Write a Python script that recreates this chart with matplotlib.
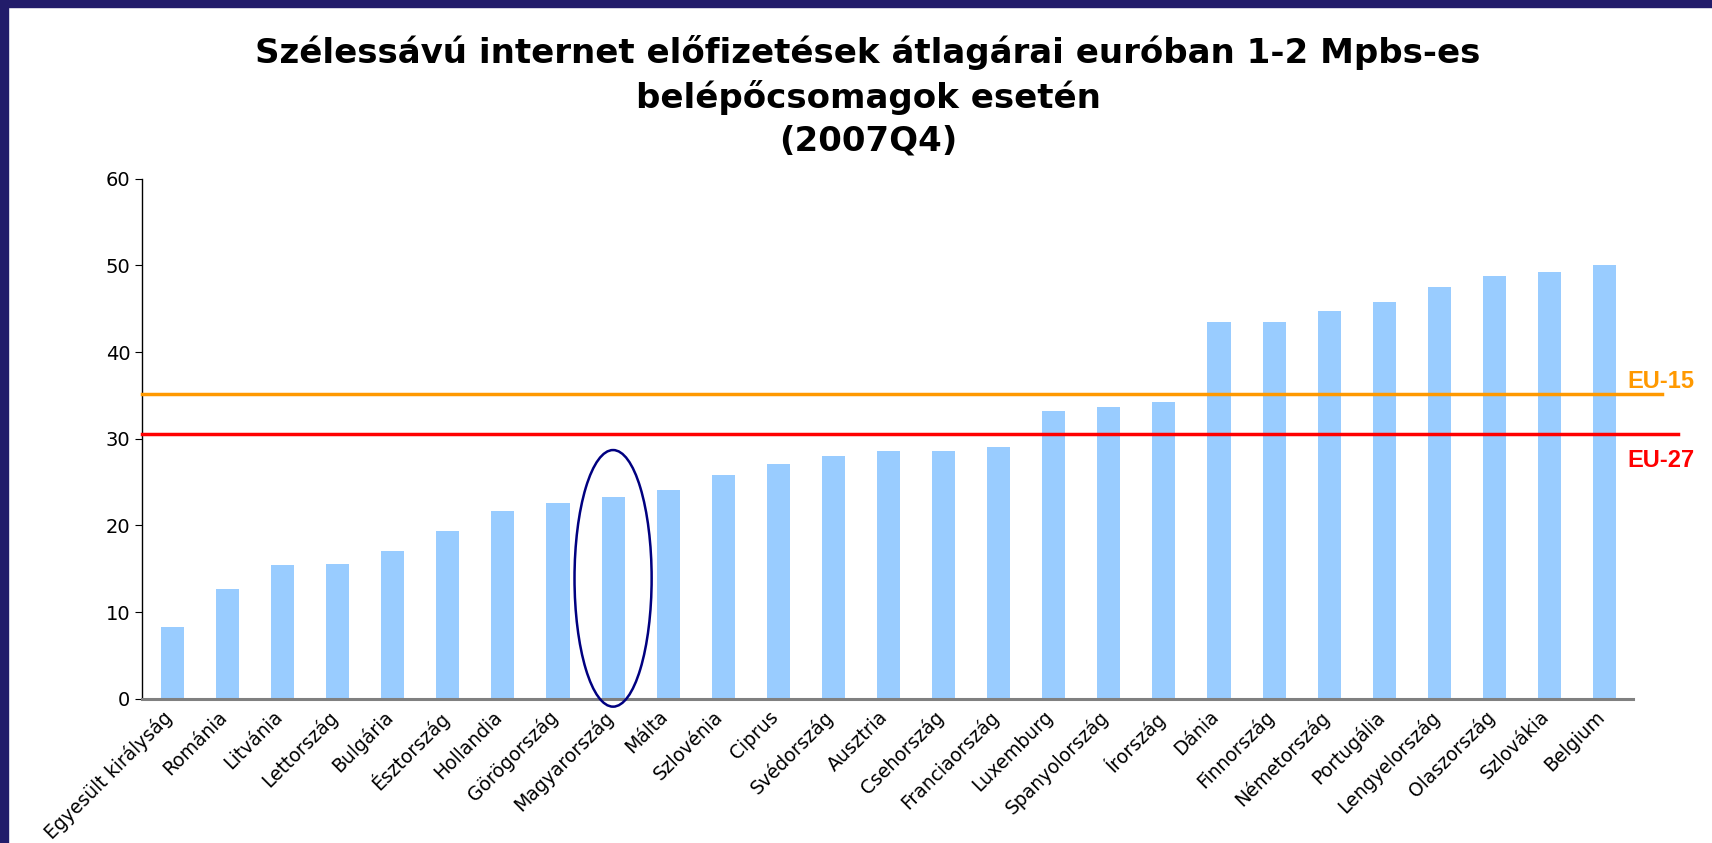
import matplotlib.pyplot as plt
import matplotlib.transforms as mtransforms
from matplotlib.patches import Ellipse, Rectangle

countries = ['Egyesült királyság', 'Románia', 'Litvánia', 'Lettország', 'Bulgária',
             'Észtország', 'Hollandia', 'Görögország', 'Magyarország', 'Málta',
             'Szlovénia', 'Ciprus', 'Svédország', 'Ausztria', 'Csehország',
             'Franciaország', 'Luxemburg', 'Spanyolország', 'Írország', 'Dánia',
             'Finnország', 'Németország', 'Portugália', 'Lengyelország',
             'Olaszország', 'Szlovákia', 'Belgium']
prices = [8.3, 12.7, 15.4, 15.6, 17.0, 19.4, 21.7, 22.6, 23.3, 24.1,
          25.8, 27.1, 28.0, 28.6, 28.6, 29.0, 33.2, 33.7, 34.3, 43.5,
          43.5, 44.7, 45.8, 47.5, 48.8, 49.2, 50.0]
eu15 = 35.2
eu27 = 30.5
highlight = 'Magyarország'

fig = plt.figure(figsize=(17.12, 8.43), dpi=100)
ax = fig.add_axes([0.083, 0.171, 0.871, 0.617])

x = range(len(countries))
ax.bar(x, prices, width=0.42, color='#99CCFF', zorder=2)

ax.set_xlim(-0.55, 26.52)
ax.set_ylim(0, 60)
ax.set_yticks(range(0, 61, 10))
ax.tick_params(axis='y', labelsize=14, length=5, direction='out')
ax.tick_params(axis='x', length=0, pad=6)
ax.set_xticks(list(x))
ax.set_xticklabels(countries, rotation=45, ha='right', rotation_mode='anchor', fontsize=13.5)
shift = mtransforms.ScaledTranslation(-0.1, 0, fig.dpi_scale_trans)
for lab in ax.get_xticklabels():
    lab.set_transform(lab.get_transform() + shift)

ax.spines['top'].set_visible(False)
ax.spines['right'].set_visible(False)
ax.spines['bottom'].set_color('#808080')
ax.spines['bottom'].set_linewidth(2.2)
ax.spines['left'].set_linewidth(1)

# EU average lines
ax.plot([-0.55, 27.05], [eu15, eu15], color='#FF9900', lw=2.5, clip_on=False, zorder=3)
ax.plot([-0.55, 27.34], [eu27, eu27], color='#FF0000', lw=2.5, clip_on=False, zorder=3)
ax.text(27.03, 36.6, 'EU-15', color='#FF9900', fontsize=17, fontweight='bold',
        family='Liberation Sans', ha='center', va='center', clip_on=False)
ax.text(27.03, 27.5, 'EU-27', color='#FF0000', fontsize=17, fontweight='bold',
        family='Liberation Sans', ha='center', va='center', clip_on=False)

# highlight ellipse
i = countries.index(highlight)
ax.add_patch(Ellipse((i, 13.9), 1.4, 29.6, fill=False, edgecolor='#000080',
                     lw=1.8, clip_on=False, zorder=4))

fig.text(0.507, 0.886, 'Szélessávú internet előfizetések átlagárai euróban 1-2 Mpbs-es\n'
         'belépőcsomagok esetén\n(2007Q4)', ha='center', va='center',
         fontsize=24.5, fontweight='bold', linespacing=1.35)

# frame of the slide (top and left)
fig.patches.append(Rectangle((0, 1 - 7 / 843), 1, 7 / 843, transform=fig.transFigure,
                             color='#221C6A', zorder=10))
fig.patches.append(Rectangle((0, 0), 8 / 1712, 1, transform=fig.transFigure,
                             color='#221C6A', zorder=10))

fig.savefig('out.png', dpi=100)
